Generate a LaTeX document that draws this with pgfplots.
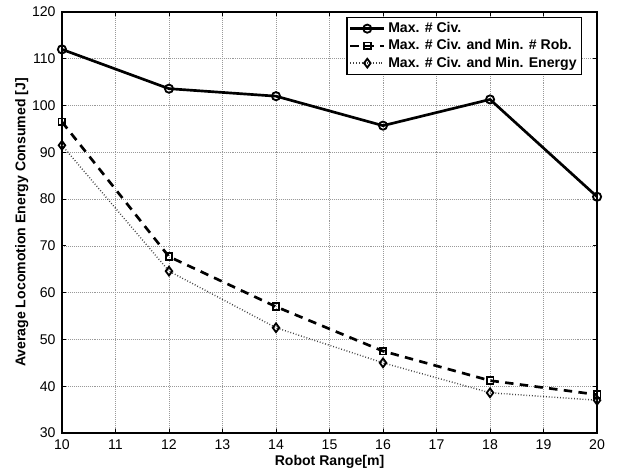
\documentclass[border=0pt]{standalone}
\usepackage{pgfplots}
\pgfplotsset{compat=1.18}
\usetikzlibrary{calc}
\usepackage{fontspec}
\setmainfont{Liberation Sans}
\begin{document}
\begin{tikzpicture}
\begin{axis}[
  scale only axis,
  width=380pt, height=299pt,
  xmin=10, xmax=20, ymin=30, ymax=120,
  xtick={10,11,...,20}, ytick={30,40,...,120},
  grid=major,
  major grid style={densely dotted, gray!80, line width=0.5pt},
  tick align=inside, tick pos=both,
  major tick length=3pt,
  axis line style={line width=1pt},
  tick style={black, line width=0.6pt},
  /pgf/number format/assume math mode=true,
  ticklabel style={font=\fontsize{10}{12}\selectfont},
  xticklabel style={yshift=-1pt},
  yticklabel style={xshift=-1pt},
  xlabel={\bfseries Robot Range[m]},
  ylabel={\bfseries Average Locomotion Energy Consumed [J]},
  label style={font=\fontsize{10}{12}\selectfont},
  xlabel style={at={(axis description cs:0.5,-0.0686)}, anchor=center},
  ylabel style={at={(axis description cs:-0.075,0.5)}, anchor=center},
  legend style={at={(0.972,0.988)}, anchor=north east, font=\bfseries\fontsize{10}{12}\selectfont,
    draw=black, line width=0.8pt, inner sep=1.5pt, row sep=-0.5pt, cells={anchor=west}},
  legend cell align=left,
  legend image code/.code={\draw[mark repeat=2, mark phase=2] plot coordinates {(0cm,0cm) (0.42cm,0cm) (0.84cm,0cm)};},
]
\addplot[black, line width=1.9pt, mark=o, mark size=2.9pt, mark options={solid, line width=1.3pt, fill=white}]
  coordinates {(10,112.0) (12,103.6) (14,102.0) (16,95.7) (18,101.3) (20,80.5)};
\addlegendentry{Max. \# Civ.}
\addplot[black, line width=1.9pt, dash pattern=on 6pt off 4.5pt, mark=square, mark size=2.4pt, mark options={solid, line width=1.3pt, fill=white}]
  coordinates {(10,96.5) (12,67.7) (14,57.0) (16,47.5) (18,41.2) (20,38.2)};
\addlegendentry{Max. \# Civ. and Min. \# Rob.}
\addplot[black!75, line width=1pt, dash pattern=on 0.6pt off 1.4pt, mark=diamond, mark size=3.1pt, mark options={solid, black, line width=1.3pt, fill=white}]
  coordinates {(10,91.5) (12,64.6) (14,52.5) (16,45.0) (18,38.6) (20,37.0)};
\addlegendentry{Max. \# Civ. and Min. Energy}
\end{axis}
\path[use as bounding box] ($(current axis.south west)+(-44pt,-30pt)$) rectangle ($(current axis.north east)+(17pt,8.5pt)$);
\end{tikzpicture}
\end{document}
